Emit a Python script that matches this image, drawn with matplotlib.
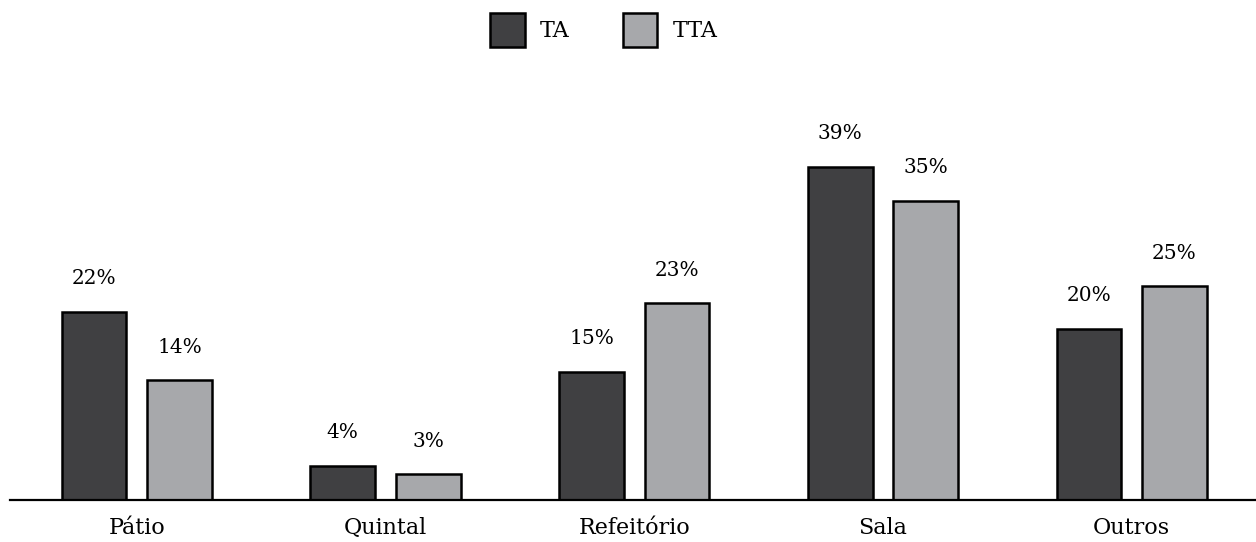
import matplotlib
matplotlib.use('Agg')
import matplotlib.pyplot as plt
import numpy as np

categories = ['Pátio', 'Quintal', 'Refeitório', 'Sala', 'Outros']
ta = [22, 4, 15, 39, 20]
tta = [14, 3, 23, 35, 25]
series_names = ['TA', 'TTA']

plt.rcParams['font.family'] = ['DejaVu Serif']

fig = plt.figure(figsize=(12.56, 5.42), dpi=100)
ax = fig.add_axes([10 / 1256, 42 / 542, 1246 / 1256, 400 / 542])

x = np.arange(len(categories))
w = 0.26
off = 0.172
b1 = ax.bar(x - off, ta, w, color='#404042', edgecolor='black', linewidth=1.8, label=series_names[0])
b2 = ax.bar(x + off, tta, w, color='#a7a8ab', edgecolor='black', linewidth=1.8, label=series_names[1])

for bars, vals in ((b1, ta), (b2, tta)):
    for r, v in zip(bars, vals):
        ax.annotate(f'{v}%', (r.get_x() + r.get_width() / 2, v), xytext=(0, 17),
                    textcoords='offset points', ha='center', va='bottom', fontsize=14.5)

ax.set_xlim(-0.51, 4.5)
ax.set_ylim(0, 46.8)
ax.set_xticks(x)
ax.set_xticklabels(categories, fontsize=16)
ax.tick_params(axis='x', length=0, pad=12)
ax.set_yticks([])
for s in ('top', 'right', 'left'):
    ax.spines[s].set_visible(False)
ax.spines['bottom'].set_linewidth(1.6)

fig.legend(loc='center', bbox_to_anchor=(604 / 1256, 1 - 30 / 542), ncol=2, frameon=False,
           fontsize=16, handlelength=1.55, handleheight=1.95, handletextpad=0.7,
           columnspacing=2.4, borderpad=0)

fig.savefig('out.png', dpi=100)
